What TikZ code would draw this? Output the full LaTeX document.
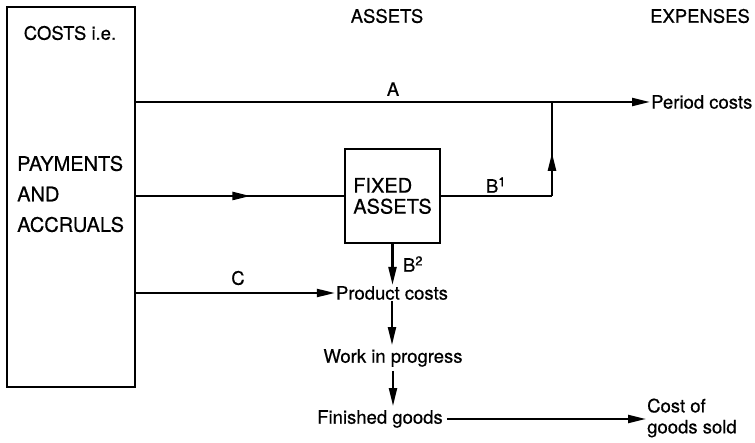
\documentclass[tikz,border=0pt]{standalone}
\usepackage{fontspec}
\setmainfont{TeX Gyre Heros}[FakeBold=0.5]
\usetikzlibrary{arrows.meta,decorations.markings}
\begin{document}
\begin{tikzpicture}[x=1pt,y=-1pt,
  every node/.style={font=\fontsize{18.5}{21}\selectfont, inner sep=2pt},
  caps/.style={font=\fontsize{19.5}{21}\selectfont},
  ln/.style={line width=2.2pt, line join=miter},
  tip/.style={-{Triangle[length=18pt,width=8pt]}},
  arr/.style={ln, tip},
  midarr/.style={ln, postaction={decorate, decoration={markings,
     mark=at position #1 with {\arrow{Triangle[length=18pt,width=8pt]}}}}},
  boxed/.style={draw, line width=2pt}]
\useasboundingbox (0,0) rectangle (755,443);
\fill[white] (0,0) rectangle (755,443);
% left box
\node[boxed, minimum width=128pt, minimum height=380pt, anchor=north west] (costs) at (6,6) {};
\node (costslbl) at (70,33) {COSTS i.e.};
\node[anchor=west, align=left, font=\fontsize{20}{30.5}\selectfont] (pay) at (15,194) {PAYMENTS\\AND\\ACCRUALS};
% headers
\node (assets) at (387,16) {ASSETS};
\node (expenses) at (700,16) {EXPENSES};
% nodes
\node[anchor=west, inner sep=1pt] (period) at (650,102) {Period costs};
\node[boxed, minimum width=95pt, minimum height=94pt, align=left, font=\fontsize{20}{21}\selectfont] (fixed) at (392.5,196) {FIXED\\ASSETS};
\node[inner sep=1pt] (product) at (392,293) {Product costs};
\node[inner sep=4pt] (wip) at (393,358) {Work in progress};
\node[inner sep=4pt] (finished) at (380,419) {Finished goods};
\node[anchor=west, align=left, inner sep=1pt] (cogs) at (646,418) {Cost of\\goods sold};
% coordinates
\coordinate (bend) at (552,196);
\coordinate (join) at (552,102);
% connectors
\draw[arr] (costs.east |- period.west) -- (period.west) node[pos=0.5, above=3pt] (alabel) {A};
\draw[midarr=0.55] (costs.east |- fixed.west) -- (fixed.west);
\draw[ln] (fixed.east) -- (bend);
\draw[midarr=0.46] (bend) -- (join);
\node (b1) at (496,185) {B\textsuperscript{1}};
\draw[arr] (fixed.south) -- (fixed.south |- product.north);
\node (b2) at (413,264) {B\textsuperscript{2}};
\draw[arr] (costs.east |- product.west) -- (product.west);
\node (clabel) at (238,278) {C};
\draw[arr] (product.south) -- (product.south |- wip.north);
\draw[arr] (wip.south) -- (wip.south |- finished.north);
\draw[arr] (finished.east) -- (cogs.west |- finished.east);
\end{tikzpicture}
\end{document}
